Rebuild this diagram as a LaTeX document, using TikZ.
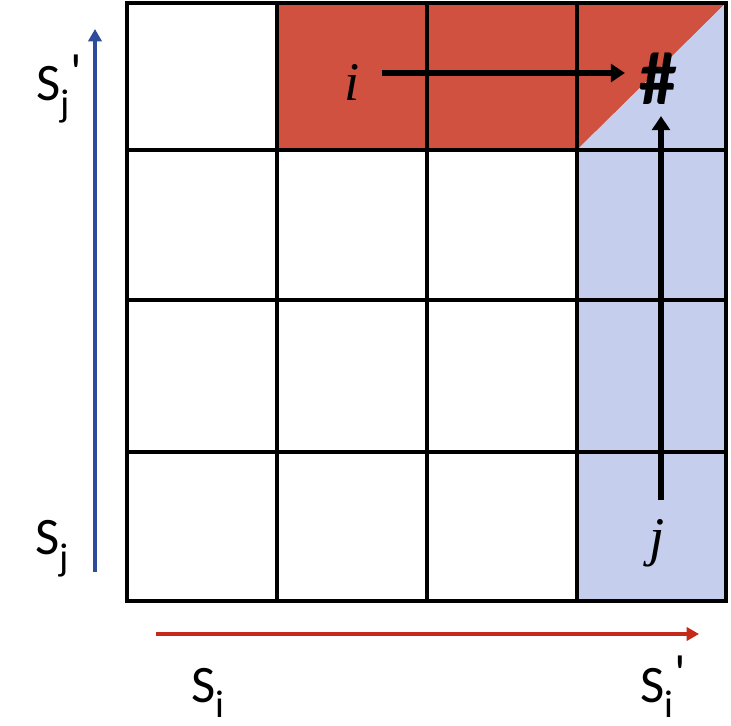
\documentclass[tikz,border=0pt]{standalone}
\usepackage{fontspec}
\setmainfont{Carlito}
\newfontfamily\varfont{Liberation Serif}
\usetikzlibrary{arrows.meta,positioning}
\definecolor{cellred}{HTML}{D0513F}
\definecolor{cellblue}{HTML}{C5CEEC}
\definecolor{axisblue}{HTML}{2D4C9C}
\definecolor{axisred}{HTML}{C42A17}
\newcommand{\lowidx}[1]{\raisebox{-0.3em}{\fontsize{22}{22}\selectfont #1}}
\newcommand{\primemark}{\hspace{0.19em}\raisebox{0.2em}{\textquotesingle}}

\begin{document}
\begin{tikzpicture}[x=0.02cm, y=-0.02cm,
    gridline/.style={line width=2.2pt, line cap=rect},
    flow/.style={line width=3.2pt, -{Triangle[length=8pt, width=10pt]}},
    axis/.style={line width=2.1pt, -{Triangle[length=7pt, width=7.5pt]}},
    lbl/.style={font=\fontsize{30}{32}\selectfont, inner sep=0pt, anchor=base west},
    var/.style={font=\fontsize{31}{33}\selectfont\varfont\itshape, inner sep=0pt}
]
\useasboundingbox (0,0) rectangle (731,726);

% shaded cells
\fill[cellred] (277,3) -- (726,3) -- (577,150) -- (277,150) -- cycle;
\fill[cellblue] (726,3) -- (726,601) -- (577,601) -- (577,150) -- cycle;

% grid
\foreach \x in {277,427,577}
  \draw[gridline] (\x,3) -- (\x,601);
\foreach \y in {150,300,452}
  \draw[gridline] (127,\y) -- (726,\y);
\draw[gridline] (127,3) rectangle (726,601);

% labels
\node[var] (i) at (352,82) {i};
\node[var] (j) at (657,543) {j};
\node[font=\fontsize{43}{45}\selectfont\bfseries, inner sep=0pt] (hash) at (658,79) {\#};
\coordinate (istart) at (382,73);
\coordinate (iend) at (625,73);
\coordinate (jstart) at (661,500);
\coordinate (jend) at (661,116);

\draw[flow] (istart) -- (iend);
\draw[flow] (jstart) -- (jend);

% axes
\coordinate (ylow) at (95,572);
\coordinate (yhigh) at (95,29);
\coordinate (xlow) at (156,634);
\coordinate (xhigh) at (699,634);
\draw[axis, axisblue] (ylow) -- (yhigh);
\draw[axis, axisred] (xlow) -- (xhigh);

\node[lbl] (sjp) at (36,101) {S\rlap{\lowidx{j}}\primemark};
\node[lbl] (sj) at (35,555) {S\lowidx{j}};
\node[lbl] (si) at (191,702) {S\lowidx{i}};
\node[lbl] (sip) at (640,702) {S\rlap{\lowidx{i}}\primemark};

\end{tikzpicture}
\end{document}
